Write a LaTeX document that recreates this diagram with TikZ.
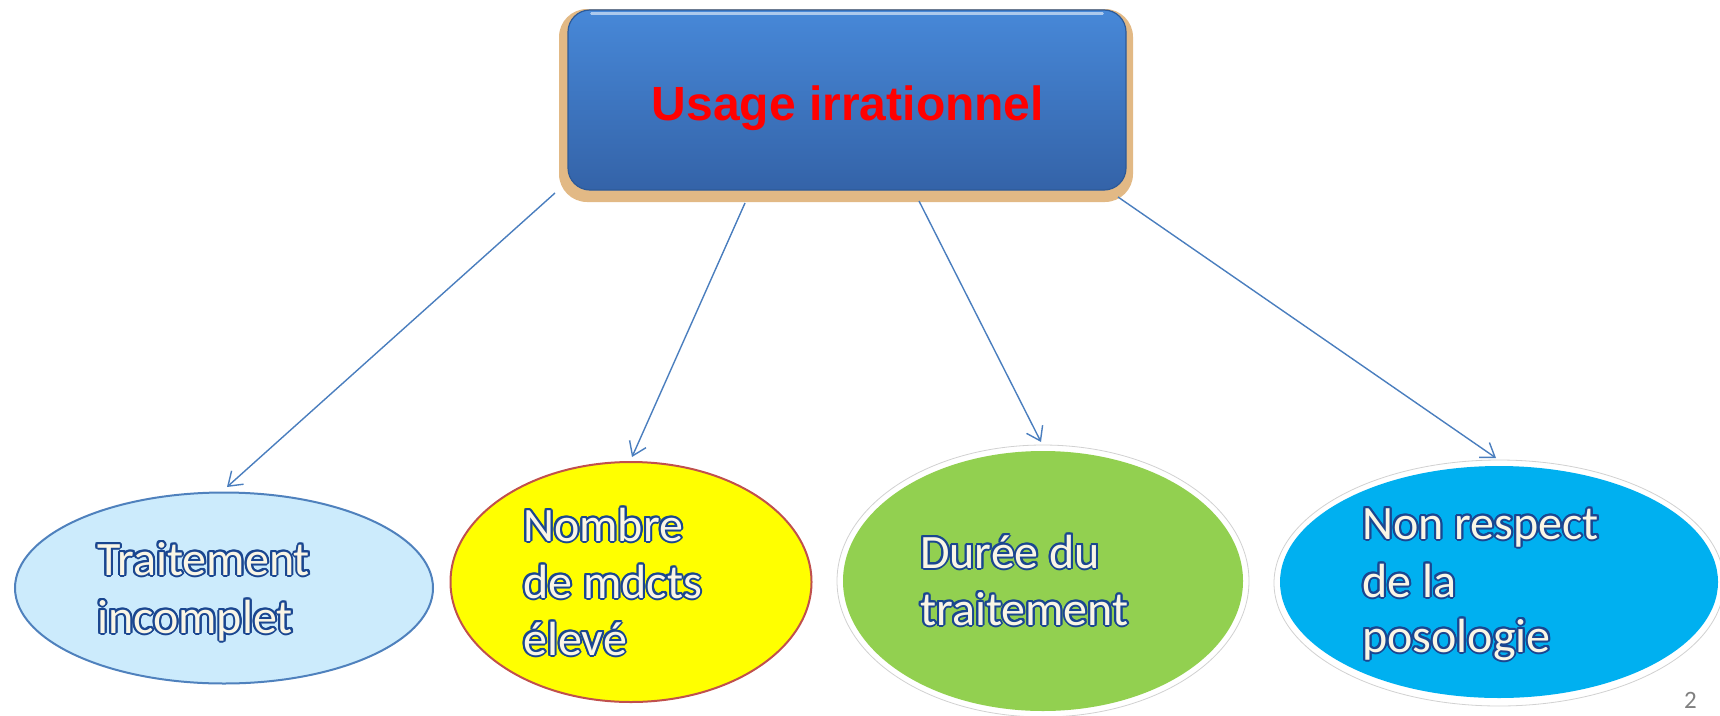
\documentclass[tikz,border=0pt]{standalone}
\usepackage{fontspec}
\setmainfont{Carlito}
\newfontfamily\titlefont{Liberation Sans}
\usepackage[copies]{contour}
\contourlength{2pt}
\usetikzlibrary{arrows.meta,calc,shapes.geometric}
\definecolor{boxtop}{HTML}{4788D8}
\definecolor{boxbot}{HTML}{3463A8}
\definecolor{boxedge}{HTML}{2D5A98}
\definecolor{tancol}{HTML}{E2B985}
\definecolor{arrowc}{HTML}{4A7EBE}
\definecolor{lightblue}{HTML}{CCEBFC}
\definecolor{lbedge}{HTML}{4F81BD}
\definecolor{yel}{HTML}{FFFF00}
\definecolor{yeledge}{HTML}{C0504D}
\definecolor{grn}{HTML}{92D050}
\definecolor{cyanb}{HTML}{00B0F0}
\definecolor{outl}{HTML}{1A4690}
\definecolor{cream}{HTML}{FAF6E6}
\tikzset{
  topbox/.style={rectangle, rounded corners=22pt, top color=boxtop, bottom color=boxbot, draw=boxedge, line width=1.2pt, inner sep=0pt},
  ellnode/.style={ellipse, inner sep=0pt},
  ring/.style={ellipse, inner sep=0pt, fill=white, draw=black!18, line width=0.8pt},
  conn/.style={draw=arrowc, line width=1.4pt, -{Straight Barb[length=13pt,width=18pt,line width=1.4pt]}},
  lbl/.style={anchor=base west, inner sep=0pt, text=cream, font=\fontsize{48}{58}\selectfont},
}
\newcommand{\ol}[1]{\contour{outl}{#1}}
\begin{document}
\begin{tikzpicture}[x=1pt,y=-1pt]
\useasboundingbox (0,0) rectangle (1720,715);
% top box
\fill[tancol, rounded corners=28pt] (559,9) rectangle (1133,202);
\node[topbox, minimum width=558pt, minimum height=180pt] (top) at (847,100) {};
\draw[white!55!boxtop, line width=2.5pt, line cap=round] ($(top.north west)+(24,4)$) -- ($(top.north east)+(-24,4)$);
\node[font=\titlefont\bfseries\fontsize{48}{58}\selectfont, text=red, anchor=base, inner sep=0pt] (title) at (848,120) {Usage irrationnel};
% ellipses
\node[ellnode, fill=lightblue, draw=lbedge, line width=2pt, minimum width=418pt, minimum height=191pt] (e1) at (224,588) {};
\node[ellnode, fill=yel, draw=yeledge, line width=2pt, minimum width=361pt, minimum height=240pt] (e2) at (631,582) {};
\node[ring, minimum width=412pt, minimum height=272pt] (r3) at (1043,581) {};
\node[ellnode, fill=grn, minimum width=400pt, minimum height=260pt] (e3) at (1043,581) {};
\node[ring, minimum width=450pt, minimum height=246pt] (r4) at (1499,583) {};
\node[ellnode, fill=cyanb, minimum width=438pt, minimum height=232pt] (e4) at (1499,582) {};
% labels
\node[lbl] (t1a) at (97,575) {\ol{Traitement}};
\node[lbl] (t1b) at (97,633) {\ol{incomplet}};
\node[lbl] (t2a) at (523,541) {\ol{Nombre}};
\node[lbl] (t2b) at (523,598) {\ol{de mdcts}};
\node[lbl] (t2c) at (523,655) {\ol{élevé}};
\node[lbl] (t3a) at (920,568) {\ol{Durée du}};
\node[lbl] (t3b) at (920,625) {\ol{traitement}};
\node[lbl] (t4a) at (1362,539) {\ol{Non respect}};
\node[lbl] (t4b) at (1362,597) {\ol{de la}};
\node[lbl] (t4c) at (1362,652) {\ol{posologie}};
% connectors
\coordinate (s1) at (555,193);
\coordinate (s2) at (745,203);
\coordinate (s3) at (919,201);
\coordinate (s4) at (1118,197);
\coordinate (h1) at (227,487);
\coordinate (h2) at (632,457);
\coordinate (h3) at (1041,442);
\coordinate (h4) at (1496,458);
\draw[conn] (s1) -- (h1);
\draw[conn] (s2) -- (h2);
\draw[conn] (s3) -- (h3);
\draw[conn] (s4) -- (h4);
% page number
\node[anchor=base west, inner sep=0pt, text=black!50, font=\fontsize{25}{27}\selectfont] (pg) at (1684,708) {2};
\end{tikzpicture}
\end{document}
